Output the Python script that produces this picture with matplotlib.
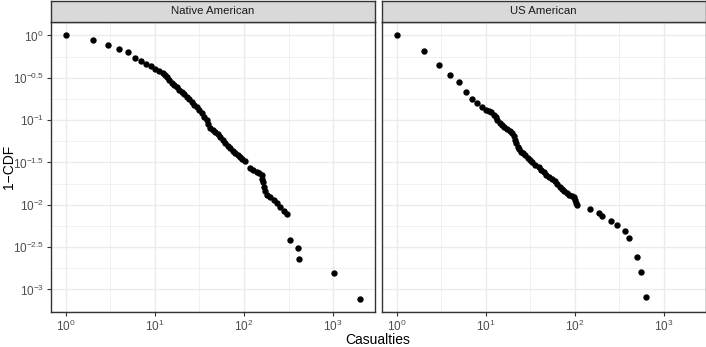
import numpy as np
import matplotlib.pyplot as plt
from matplotlib.ticker import FixedLocator, NullFormatter

plt.rcParams['font.family'] = ['Liberation Sans', 'DejaVu Sans']
plt.rcParams['mathtext.fontset'] = 'custom'
plt.rcParams['mathtext.rm'] = 'Liberation Sans'
plt.rcParams['mathtext.it'] = 'Liberation Sans:italic'

# values (casualties vs 1-CDF)
panels = ['Native American', 'US American']

native_x = [1, 2, 3, 4, 5, 6, 7, 8, 9, 10.1, 11.0, 12.2, 12.9, 13.6, 14.5, 15.5, 16.5, 17.7, 18.8,
            20.1, 21.3, 22.9, 24.3, 26.0, 27.7, 29.6, 31.5, 33.7, 35.8, 38.4, 39.7, 41.8, 44.6,
            47.6, 50.8, 54.2, 57.8, 61.6, 65.8, 70.2, 74.8, 79.8, 85.1, 90.8, 95.7, 101.6, 117.7,
            127.2, 140, 148.6, 159, 161, 163, 166, 173.4, 181.3, 197.6, 215.3, 234.9, 255.9,
            278.6, 304.1, 331, 404, 415, 1008, 2011]
native_y = [1, 0.873, 0.762, 0.684, 0.635, 0.535, 0.497, 0.458, 0.43, 0.406, 0.382, 0.356, 0.337,
            0.319, 0.297, 0.276, 0.259, 0.243, 0.229, 0.216, 0.203, 0.188, 0.177, 0.164, 0.152,
            0.141, 0.131, 0.120, 0.110, 0.100, 0.0897, 0.0798, 0.0762, 0.0728, 0.0684, 0.0635,
            0.0581, 0.0531, 0.0493, 0.0463, 0.0431, 0.0404, 0.0386, 0.0369, 0.0349, 0.0331,
            0.0269, 0.0257, 0.0245, 0.0235, 0.0224, 0.0204, 0.0187, 0.0163, 0.0145, 0.0130,
            0.0122, 0.0114, 0.0104, 0.00947, 0.00855, 0.0077, 0.00386, 0.00308, 0.0023,
            0.00155, 0.00078]

us_x = [1, 2, 3, 4, 5, 6, 7, 8, 9, 10, 10.9, 11.6, 12.4, 13.0, 13.5, 14.3, 15.3, 16.2, 17.4,
        18.5, 19.8, 20.6, 21.3, 22.1, 23.0, 23.9, 25.2, 26.5, 27.9, 29.8, 31.8, 33.5, 36.2,
        39.4, 42.3, 44.9, 48.1, 52.0, 56.1, 60.7, 63.9, 69.0, 72.8, 76.6, 82.2, 87.1, 93.5,
        98.0, 101.9, 104.5, 107.2, 147.5, 186.2, 203.2, 256.6, 296.5, 371.4, 404.5, 502.3,
        557.2, 628.1]
us_y = [1, 0.653, 0.450, 0.343, 0.279, 0.212, 0.177, 0.159, 0.142, 0.132, 0.128, 0.123, 0.116,
        0.108, 0.100, 0.0934, 0.0873, 0.0820, 0.0776, 0.0741, 0.0708, 0.0647, 0.0589, 0.0535,
        0.0486, 0.0455, 0.0425, 0.0404, 0.0386, 0.0361, 0.0337, 0.0317, 0.0298, 0.0281,
        0.0260, 0.0243, 0.0224, 0.0210, 0.0201, 0.0190, 0.0178, 0.0163, 0.0153, 0.0145,
        0.0136, 0.0132, 0.0128, 0.0122, 0.0114, 0.0106, 0.0099, 0.0089, 0.00805, 0.00735,
        0.00647, 0.00571, 0.00485, 0.00405, 0.00243, 0.00162, 0.000813]

x_major = [0, 1, 2, 3]
y_major = [0, -0.5, -1, -1.5, -2, -2.5, -3]

W, H = 706, 347
fig = plt.figure(figsize=(W / 100, H / 100), dpi=100)


def box(l, t, r, b):
    return [l / W, 1 - b / H, (r - l) / W, (b - t) / H]


# shared scales, ggplot-style 5% expansion in log space
lx = np.log10(np.concatenate([native_x, us_x]))
ly = np.log10(np.concatenate([native_y, us_y]))
ex = 0.05 * (lx.max() - lx.min())
ey = 0.05 * (ly.max() - ly.min())
xlim = (10 ** (lx.min() - ex), 10 ** (lx.max() + ex))
ylim = (10 ** (ly.min() - ey), 10 ** (ly.max() + ey))

border = '#333333'
grid = '#EBEBEB'

def fmt(v):
    return r'$10^{%g}$' % v

lefts = [(51, 375), (382, 705.5)]
data = [(native_x, native_y), (us_x, us_y)]

for i, name in enumerate(panels):
    l, r = lefts[i]
    ax = fig.add_axes(box(l, 22.3, r, 311.7))
    ax.set_xscale('log')
    ax.set_yscale('log')
    ax.set_xlim(*xlim)
    ax.set_ylim(*ylim)

    ax.xaxis.set_major_locator(FixedLocator([10.0 ** v for v in x_major]))
    ax.xaxis.set_minor_locator(FixedLocator([10.0 ** (v + 0.5) for v in x_major]))
    ax.yaxis.set_major_locator(FixedLocator([10.0 ** v for v in y_major]))
    ax.yaxis.set_minor_locator(FixedLocator([10.0 ** (v - 0.25) for v in y_major]))
    ax.set_xticklabels([fmt(v) for v in x_major])
    ax.xaxis.set_minor_formatter(NullFormatter())
    ax.yaxis.set_minor_formatter(NullFormatter())

    ax.grid(which='major', color=grid, lw=1.0)
    ax.grid(which='minor', color=grid, lw=0.5)
    ax.set_axisbelow(True)
    ax.tick_params(which='major', length=3, width=0.8, color=border,
                   labelcolor='#4D4D4D', labelsize=8.5, pad=2)
    ax.tick_params(which='minor', length=0)
    if i == 0:
        ax.set_yticklabels([fmt(v) for v in y_major])
    else:
        ax.set_yticklabels([])
        ax.tick_params(axis='y', which='both', length=0)
    for sp in ax.spines.values():
        sp.set_color(border)
        sp.set_linewidth(1.0)

    xs, ys = data[i]
    ax.scatter(xs, ys, s=21, c='black', linewidths=0, zorder=3)

    # facet strip
    st = fig.add_axes(box(l, 0.5, r, 22.3))
    st.set_facecolor('#D9D9D9')
    st.set_xticks([])
    st.set_yticks([])
    for sp in st.spines.values():
        sp.set_color(border)
        sp.set_linewidth(1.0)
    st.text(0.5, 0.5, name, ha='center', va='center', fontsize=8.2,
            color='#1A1A1A', transform=st.transAxes)

fig.text(378 / W, 1 - 340.5 / H, 'Casualties', ha='center', va='center', fontsize=10)
fig.text(9 / W, 1 - 167 / H, '1\u2212CDF', ha='center', va='center', rotation=90,
         fontsize=10)

fig.savefig('out.png', dpi=100)
